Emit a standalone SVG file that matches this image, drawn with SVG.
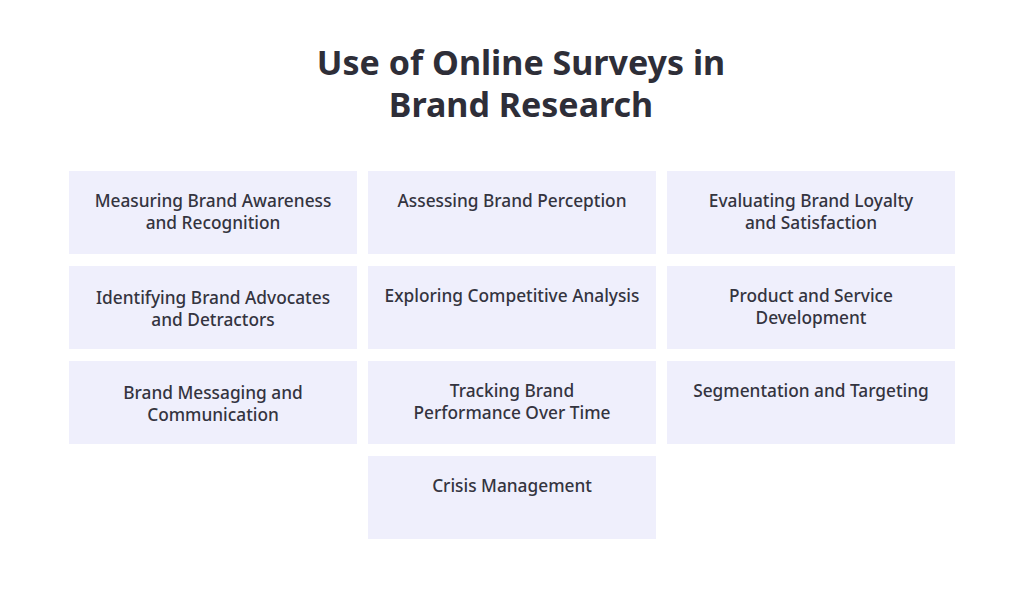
<svg xmlns="http://www.w3.org/2000/svg" width="1024" height="592" viewBox="0 0 1024 592">
<style>
.box{fill:#EFEFFC}
.t{font-family:"Noto Sans","Inter",sans-serif;font-size:17.3px;font-weight:500;fill:#34343F;text-anchor:middle}
.title{font-family:"Noto Sans","Inter",sans-serif;font-size:34px;font-weight:700;fill:#2E2E38;text-anchor:middle}
</style>
<rect width="1024" height="592" fill="#FFFFFF"/>
<g id="title">
<text class="title" x="521" y="75">Use of Online Surveys in</text>
<text class="title" x="521" y="117">Brand Research</text>
</g>
<g id="connectors"></g>
<g id="n1"><rect class="box" x="69" y="171" width="288" height="83"/><text class="t" x="213" y="207">Measuring Brand Awareness</text><text class="t" x="213" y="229">and Recognition</text></g>
<g id="n2"><rect class="box" x="368" y="171" width="288" height="83"/><text class="t" x="512" y="207">Assessing Brand Perception</text></g>
<g id="n3"><rect class="box" x="667" y="171" width="288" height="83"/><text class="t" x="811" y="207">Evaluating Brand Loyalty</text><text class="t" x="811" y="229">and Satisfaction</text></g>
<g id="n4"><rect class="box" x="69" y="266" width="288" height="83"/><text class="t" x="213" y="304">Identifying Brand Advocates</text><text class="t" x="213" y="326">and Detractors</text></g>
<g id="n5"><rect class="box" x="368" y="266" width="288" height="83"/><text class="t" x="512" y="302">Exploring Competitive Analysis</text></g>
<g id="n6"><rect class="box" x="667" y="266" width="288" height="83"/><text class="t" x="811" y="302">Product and Service</text><text class="t" x="811" y="324">Development</text></g>
<g id="n7"><rect class="box" x="69" y="361" width="288" height="83"/><text class="t" x="213" y="399">Brand Messaging and</text><text class="t" x="213" y="421">Communication</text></g>
<g id="n8"><rect class="box" x="368" y="361" width="288" height="83"/><text class="t" x="512" y="397">Tracking Brand</text><text class="t" x="512" y="419">Performance Over Time</text></g>
<g id="n9"><rect class="box" x="667" y="361" width="288" height="83"/><text class="t" x="811" y="397">Segmentation and Targeting</text></g>
<g id="n10"><rect class="box" x="368" y="456" width="288" height="83"/><text class="t" x="512" y="492">Crisis Management</text></g>
</svg>
